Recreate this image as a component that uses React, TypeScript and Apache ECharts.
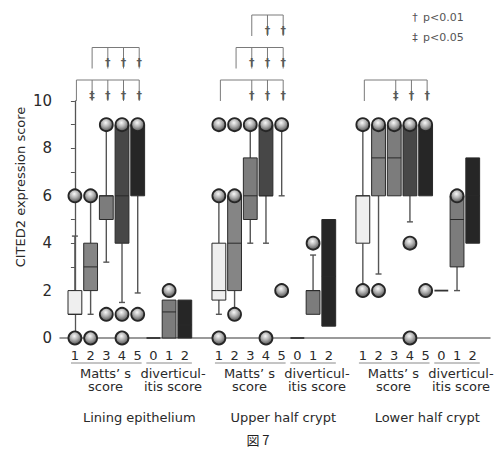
import React, { useEffect, useRef } from "react";
import * as echarts from "echarts";

const GROUP_TITLES = ["Lining epithelium", "Upper half crypt", "Lower half crypt"];
const MATTS_TICKS = ["1", "2", "3", "4", "5"];
const DIV_TICKS = ["0", "1", "2"];
const MATTS_LABEL = ["Matts’ s", "score"];
const DIV_LABEL = ["diverticul-", "itis score"];
const Y_NAME = "CITED2 expression score";
const FIG_LABEL = "図 7";
const LEGEND_ITEMS = [
  ["†", "p<0.01"],
  ["‡", "p<0.05"],
];

// [min, Q1, median, Q3, max] : Matts 1-5, then diverticulitis 0-2
const liningStats = [
  [1, 1, 1, 2, 4.3],
  [1, 2, 3, 4, 6],
  [3.2, 5, 6, 6, 9],
  [1.5, 4, 6, 9, 9],
  [1.9, 6, 9, 9, 9],
  [0, 0, 0, 0, 0],
  [0, 0, 1.1, 1.6, 1.6],
  [0, 0, 0.55, 1.6, 1.6],
];
const upperStats = [
  [1, 1.6, 2, 4, 6],
  [1, 2, 4, 6, 6],
  [4, 5, 6, 7.6, 9],
  [4, 6, 6, 9, 9],
  [6, 9, 9, 9, 9],
  [0, 0, 0, 0, 0],
  [1, 1, 2, 2, 3.5],
  [0.5, 0.5, 2.6, 5, 5],
];
const lowerStats = [
  [2, 4, 6, 6, 9],
  [2.7, 6, 7.6, 9, 9],
  [6, 6, 7.6, 9, 9],
  [4.9, 6, 9, 9, 9],
  [6, 6, 9, 9, 9],
  [2, 2, 2, 2, 2],
  [2, 3, 5, 6, 6],
  [4, 4, 6, 7.6, 7.6],
];

const liningOutliers = [[0, 6], [0, 6], [1, 9], [0, 1, 9], [1, 9], [], [2], []];
const upperOutliers = [[0, 6, 9], [1, 6, 9], [9], [0, 9], [2, 9], [], [4], []];
const lowerOutliers = [[2, 9], [2, 9], [9], [0, 4, 9], [2, 9], [], [6], []];

// brackets: from category, to categories, significance marks, stack level
const liningBrackets = [
  { from: 0, to: [1, 2, 3, 4], marks: ["‡", "†", "†", "†"], level: 0 },
  { from: 1, to: [2, 3, 4], marks: ["†", "†", "†"], level: 1 },
];
const upperBrackets = [
  { from: 0, to: [2, 3, 4], marks: ["†", "†", "†"], level: 0 },
  { from: 1, to: [2, 3, 4], marks: ["†", "†", "†"], level: 1 },
  { from: 2, to: [3, 4], marks: ["†", "†"], level: 2 },
];
const lowerBrackets = [
  { from: 0, to: [2, 3, 4], marks: ["‡", "†", "†"], level: 0 },
];

const ALL_STATS = [liningStats, upperStats, lowerStats];
const ALL_OUTLIERS = [liningOutliers, upperOutliers, lowerOutliers];
const ALL_BRACKETS = [liningBrackets, upperBrackets, lowerBrackets];

const BOX_COLORS = ["#efefef", "#858585", "#7c7c7c", "#474747", "#262626", "#333333", "#7c7c7c", "#262626"];
const GROUP_STEP = 9.17;
const X_MIN = -0.95;
const X_MAX = 26.44;
const FONT = "'DejaVu Sans', Verdana, sans-serif";
const TEXT_COLOR = "#2a2a2a";

export default function App() {
  const ref = useRef<HTMLDivElement>(null);

  useEffect(() => {
    if (!ref.current) return;
    const chart = echarts.init(ref.current, undefined, { renderer: "svg" });

    const boxData: number[][] = [];
    const outlierData: number[][] = [];
    ALL_STATS.forEach((stats, g) => {
      stats.forEach((s, i) => {
        boxData.push([g * GROUP_STEP + i, ...s, i]);
      });
      ALL_OUTLIERS[g].forEach((vals, i) => {
        vals.forEach((v) => outlierData.push([g * GROUP_STEP + i, v]));
      });
    });
    const bracketData: number[][] = [];
    ALL_BRACKETS.forEach((list, g) => list.forEach((_, b) => bracketData.push([g, b])));

    const circleColor = new echarts.graphic.RadialGradient(0.45, 0.35, 0.62, [
      { offset: 0, color: "#f8f8f8" },
      { offset: 0.5, color: "#b0b0b0" },
      { offset: 1, color: "#5a5a5a" },
    ]);

    const option: any = {
      animation: false,
      backgroundColor: "#ffffff",
      grid: { left: 60, right: 5, top: 101, bottom: 112 },
      xAxis: {
        type: "value",
        min: X_MIN,
        max: X_MAX,
        axisLine: { show: true, onZero: false, lineStyle: { color: "#7a7a7a", width: 1.5 } },
        axisTick: { show: false },
        axisLabel: { show: false },
        splitLine: { show: false },
      },
      yAxis: {
        type: "value",
        min: 0,
        max: 10,
        interval: 1,
        axisLine: { show: true, lineStyle: { color: "#555555", width: 1.3 } },
        axisTick: { show: true, length: 4, lineStyle: { color: "#555555" } },
        axisLabel: {
          show: true,
          margin: 8,
          fontSize: 15,
          fontFamily: FONT,
          color: TEXT_COLOR,
          formatter: (v: number) => (v % 2 === 0 ? String(v) : ""),
        },
        splitLine: { show: false },
      },
      graphic: [
        {
          type: "text",
          x: 20,
          y: 187,
          rotation: Math.PI / 2,
          style: {
            text: Y_NAME,
            font: `13px ${FONT}`,
            fill: TEXT_COLOR,
            textAlign: "center",
            textVerticalAlign: "middle",
          },
        },
        ...LEGEND_ITEMS.flatMap((item, k) => [
          {
            type: "text",
            x: 415,
            y: 17 + k * 20,
            style: { text: item[0], font: `11px ${FONT}`, fill: "#555555", textAlign: "center", textVerticalAlign: "middle" },
          },
          {
            type: "text",
            x: 423,
            y: 17 + k * 20,
            style: { text: item[1], font: `11px ${FONT}`, fill: "#555555", textAlign: "left", textVerticalAlign: "middle" },
          },
        ]),
        {
          type: "text",
          x: 258,
          y: 439,
          style: {
            text: FIG_LABEL,
            font: "13px 'Noto Sans CJK JP', sans-serif",
            fill: "#222222",
            textAlign: "center",
            textVerticalAlign: "middle",
          },
        },
      ],
      series: [
        {
          type: "custom",
          name: "boxes",
          clip: false,
          z: 2,
          encode: { x: 0, y: [1, 2, 3, 4, 5] },
          data: boxData,
          renderItem: (params: any, api: any) => {
            const x = api.value(0);
            const lo = api.value(1);
            const q1 = api.value(2);
            const med = api.value(3);
            const q3 = api.value(4);
            const hi = api.value(5);
            const ci = api.value(6);
            const half = api.size([1, 0])[0] * 0.44;
            const pLo = api.coord([x, lo]);
            const pQ1 = api.coord([x, q1]);
            const pMed = api.coord([x, med]);
            const pQ3 = api.coord([x, q3]);
            const pHi = api.coord([x, hi]);
            const cx = pQ1[0];
            const wStyle = { stroke: "#555555", lineWidth: 1.4 };
            const children: any[] = [];
            if (hi > q3) {
              children.push({ type: "line", shape: { x1: cx, y1: pQ3[1], x2: cx, y2: pHi[1] }, style: wStyle });
              children.push({ type: "line", shape: { x1: cx - 3, y1: pHi[1], x2: cx + 3, y2: pHi[1] }, style: wStyle });
            }
            if (lo < q1) {
              children.push({ type: "line", shape: { x1: cx, y1: pQ1[1], x2: cx, y2: pLo[1] }, style: wStyle });
              children.push({ type: "line", shape: { x1: cx - 3, y1: pLo[1], x2: cx + 3, y2: pLo[1] }, style: wStyle });
            }
            if (q3 > q1) {
              children.push({
                type: "rect",
                shape: { x: cx - half, y: pQ3[1], width: half * 2, height: pQ1[1] - pQ3[1] },
                style: { fill: BOX_COLORS[ci], stroke: "#2a2a2a", lineWidth: 1 },
              });
              children.push({
                type: "line",
                shape: { x1: cx - half, y1: pMed[1], x2: cx + half, y2: pMed[1] },
                style: { stroke: "#2a2a2a", lineWidth: 1 },
              });
            } else {
              children.push({
                type: "line",
                shape: { x1: cx - half, y1: pQ1[1], x2: cx + half, y2: pQ1[1] },
                style: { stroke: "#333333", lineWidth: 1.8 },
              });
            }
            return { type: "group", children };
          },
        },
        {
          type: "scatter",
          name: "outliers",
          z: 5,
          symbol: "circle",
          symbolSize: 13,
          data: outlierData,
          itemStyle: { color: circleColor, borderColor: "#262626", borderWidth: 1.8, opacity: 1 },
          clip: false,
        },
        {
          type: "custom",
          name: "brackets",
          clip: false,
          silent: true,
          encode: { x: 0, y: 1 },
          data: bracketData,
          renderItem: (params: any, api: any) => {
            const g = api.value(0);
            const b = ALL_BRACKETS[g][api.value(1)];
            const base = g * GROUP_STEP;
            const topY = api.coord([0, 10])[1];
            const hy = topY - 21 - b.level * 32.5;
            const leg = 21;
            const xFrom = api.coord([base + b.from, 0])[0] + 1.5;
            const xs = b.to.map((t: number) => api.coord([base + t, 0])[0] + 1.5);
            const ls = { stroke: "#7a7a7a", lineWidth: 1 };
            const children: any[] = [
              { type: "line", shape: { x1: xFrom, y1: hy, x2: xs[xs.length - 1], y2: hy }, style: ls },
              { type: "line", shape: { x1: xFrom, y1: hy, x2: xFrom, y2: hy + leg }, style: ls },
            ];
            xs.forEach((xx: number, k: number) => {
              children.push({ type: "line", shape: { x1: xx, y1: hy, x2: xx, y2: hy + leg }, style: ls });
              children.push({
                type: "text",
                x: xx,
                y: hy + 15,
                style: {
                  text: b.marks[k],
                  font: `bold 11px ${FONT}`,
                  fill: "#5a5a5a",
                  textAlign: "center",
                  textVerticalAlign: "middle",
                },
              });
            });
            return { type: "group", children };
          },
        },
        {
          type: "custom",
          name: "labels",
          clip: false,
          silent: true,
          encode: { x: 0, y: 1 },
          data: [[0, 0], [1, 0], [2, 0]],
          renderItem: (params: any, api: any) => {
            const g = api.value(0);
            const base = g * GROUP_STEP;
            const y0 = api.coord([0, 0])[1];
            const px = (v: number) => api.coord([base + v, 0])[0];
            const tStyle = (text: string, size = 13) => ({
              text,
              font: `${size}px ${FONT}`,
              fill: TEXT_COLOR,
              textAlign: "center",
              textVerticalAlign: "middle",
            });
            const children: any[] = [];
            MATTS_TICKS.forEach((t, i) => children.push({ type: "text", x: px(i), y: y0 + 17, style: tStyle(t) }));
            DIV_TICKS.forEach((t, i) => children.push({ type: "text", x: px(5 + i), y: y0 + 17, style: tStyle(t) }));
            const us = { stroke: "#8a8a8a", lineWidth: 1 };
            children.push({ type: "line", shape: { x1: px(-0.25), y1: y0 + 25, x2: px(4.25), y2: y0 + 25 }, style: us });
            children.push({ type: "line", shape: { x1: px(4.55), y1: y0 + 25, x2: px(7.45), y2: y0 + 25 }, style: us });
            MATTS_LABEL.forEach((t, k) =>
              children.push({ type: "text", x: px(1.95), y: y0 + 35 + k * 13.5, style: tStyle(t) })
            );
            DIV_LABEL.forEach((t, k) =>
              children.push({ type: "text", x: px(6.25), y: y0 + 35 + k * 13.5, style: tStyle(t) })
            );
            children.push({ type: "text", x: px(4.1), y: y0 + 79, style: tStyle(GROUP_TITLES[g]) });
            return { type: "group", children };
          },
        },
      ],
    };

    chart.setOption(option);
    return () => chart.dispose();
  }, []);

  return (
    <div
      ref={ref}
      style={{ position: "absolute", left: 0, top: 0, width: 495, height: 450, background: "#ffffff" }}
    />
  );
}
